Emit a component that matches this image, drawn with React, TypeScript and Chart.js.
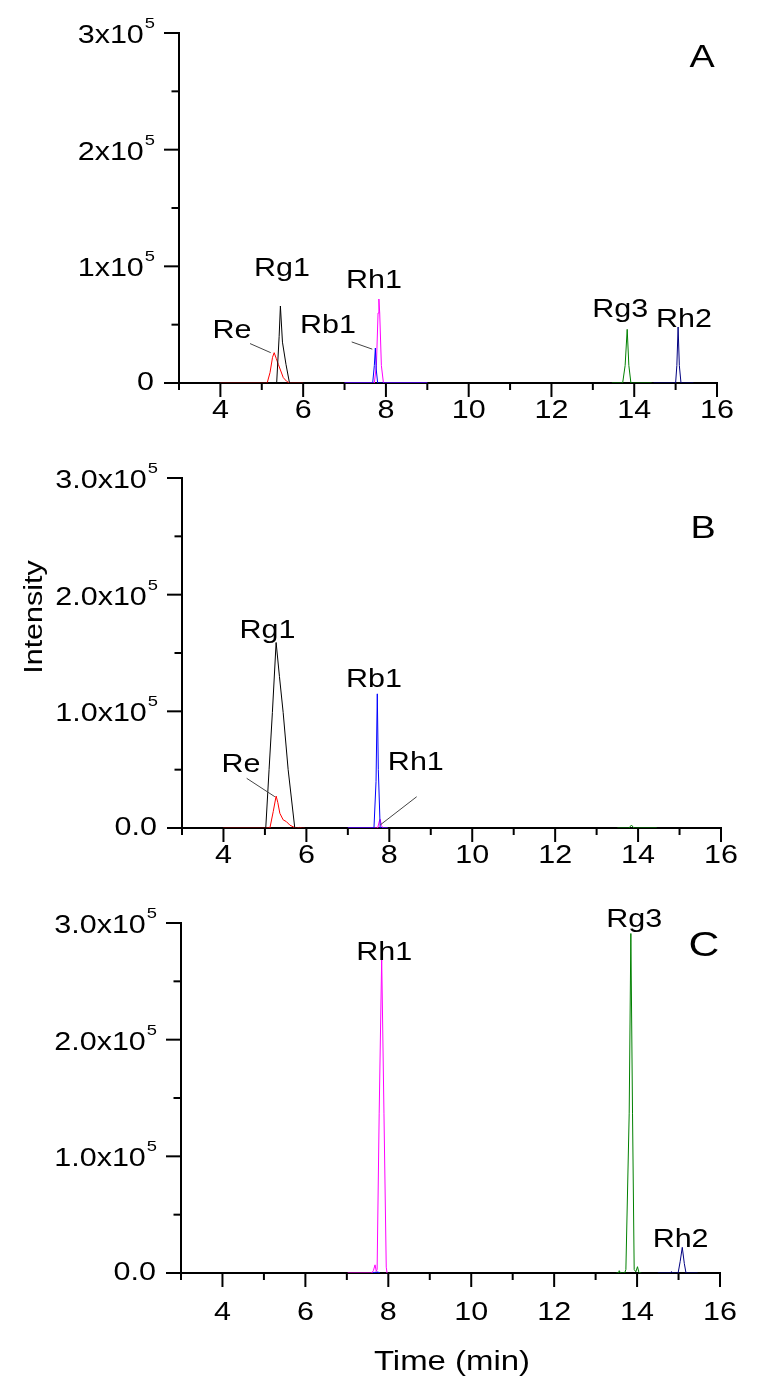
import React, { useEffect, useRef } from 'react';
import { Chart, registerables } from 'chart.js';

Chart.register(...registerables);

type Pt = [number, number];

// ---------------- tick labels ----------------
const xTickLabels = [4, 6, 8, 10, 12, 14, 16];
const yTickValues = [0, 100000, 200000, 300000];
const yTickLabelsA = ['0', '1x10', '2x10', '3x10'];
const yTickLabelsBC = ['0.0', '1.0x10', '2.0x10', '3.0x10'];
const yTickExponent = '5';

// ---------------- panel A data (time min, intensity) ----------------
const A_Rg1: Pt[] = [[4, 0], [5.36, 0], [5.42, 40000], [5.45, 66000], [5.5, 35000], [5.585, 16000], [5.67, 0], [6, 0]];
const A_Re: Pt[] = [[4, 0], [5.13, 0], [5.2, 9000], [5.26, 22000], [5.3, 26000], [5.35, 21000], [5.4, 16000], [5.52, 4600], [5.6, 1500], [5.67, 0], [6, 0]];
const A_Rb1: Pt[] = [[7, 0], [7.68, 0], [7.72, 15000], [7.745, 30000], [7.765, 12000], [7.8, 0], [9, 0]];
const A_Rh1: Pt[] = [[7, 0], [7.72, 0], [7.77, 15000], [7.81, 60000], [7.83, 72000], [7.85, 60000], [7.89, 15000], [7.94, 0], [9, 0]];
const A_Rg3: Pt[] = [[13.46, 0], [13.72, 0], [13.78, 15000], [13.83, 46000], [13.87, 15000], [13.92, 0], [14.42, 0]];
const A_Rh2: Pt[] = [[14.47, 0], [15.0, 0], [15.03, 15000], [15.06, 48000], [15.09, 15000], [15.13, 0], [15.43, 0]];

// ---------------- panel B data ----------------
const B_Rg1: Pt[] = [[4, 0], [5.02, 0], [5.1, 50000], [5.18, 99000], [5.27, 159000], [5.35, 130000], [5.44, 99000], [5.56, 50000], [5.72, 0], [6, 0]];
const B_Re: Pt[] = [[4, 0], [5.12, 0], [5.2, 14000], [5.27, 27400], [5.31, 22000], [5.36, 12600], [5.44, 7000], [5.52, 5400], [5.6, 2500], [5.68, 1000], [5.76, 0], [5.84, 500], [5.9, 0], [5.96, 0]];
const B_Rb1: Pt[] = [[7, 0], [7.63, 0], [7.68, 40000], [7.71, 115000], [7.735, 50000], [7.78, 0], [7.96, 0]];
const B_Rh1: Pt[] = [[7, 0], [7.72, 0], [7.76, 6000], [7.78, 7500], [7.81, 2000], [7.85, 0], [7.96, 0]];
const B_Rg3: Pt[] = [[13.5, 0], [13.78, 0], [13.84, 2500], [13.9, 0], [14.45, 0]];

// ---------------- panel C data ----------------
const C_Rh1: Pt[] = [[7.02, 0], [7.6, 0], [7.64, 2000], [7.68, 7000], [7.71, 1500], [7.73, 3000], [7.78, 137000], [7.84, 270000], [7.895, 137000], [7.95, 5000], [7.97, 0]];
const C_Rb1: Pt[] = [[7.6, 0], [7.68, 600], [7.75, 800], [7.8, 0]];
const C_Rg3: Pt[] = [[13.5, 0], [13.55, 0], [13.57, 2000], [13.6, 0], [13.7, 0], [13.73, 3000], [13.81, 137000], [13.85, 291000], [13.89, 137000], [13.93, 3000], [13.97, 1000], [14.01, 5400], [14.04, 1000], [14.07, 0], [14.1, 0]];
const C_Rh2: Pt[] = [[14.5, 0], [14.8, 0], [14.83, 1200], [14.86, 0], [14.99, 0], [15.04, 10000], [15.09, 22000], [15.14, 8000], [15.18, 0], [15.46, 0]];

// ---------------- styling ----------------
const FONT = "'Liberation Sans', Arial, Helvetica, sans-serif";
const SX = 1.22; // horizontal widening of the lettering
const X_AXIS_H = 20;
const LABEL_SIZE = 25;
const SUP_SIZE = 15;

interface Series { label: string; color: string; data: Pt[] }
interface Note { text: string; t: number; v: number; size?: number }
interface Leader { t1: number; v1: number; t2: number; v2: number }
interface Panel {
  key: string;
  top: number;
  height: number;
  axisLeft: number;
  padRight: number;
  yLabels: string[];
  xLabelDy: number;
  series: Series[];
  notes: Note[];
  leaders: Leader[];
  yTitle?: { text: string; x: number; y: number };
  xTitle?: { text: string; dy: number };
}

const panels: Panel[] = [
  {
    key: 'A', top: 0, height: 445, axisLeft: 179, padRight: 42,
    yLabels: yTickLabelsA, xLabelDy: 35,
    series: [
      { label: 'Rg1', color: '#000000', data: A_Rg1 },
      { label: 'Re', color: '#ff0000', data: A_Re },
      { label: 'Rb1', color: '#0000ff', data: A_Rb1 },
      { label: 'Rh1', color: '#ff00ff', data: A_Rh1 },
      { label: 'Rg3', color: '#008000', data: A_Rg3 },
      { label: 'Rh2', color: '#000080', data: A_Rh2 },
    ],
    notes: [
      { text: 'Rg1', t: 5.49, v: 92000 },
      { text: 'Re', t: 4.28, v: 38700 },
      { text: 'Rh1', t: 7.71, v: 81700 },
      { text: 'Rb1', t: 6.6, v: 43000 },
      { text: 'Rg3', t: 13.66, v: 56700 },
      { text: 'Rh2', t: 15.2, v: 48100 },
      { text: 'A', t: 15.64, v: 271000, size: 31 },
    ],
    leaders: [
      { t1: 4.716, v1: 33800, t2: 5.216, v2: 26000 },
      { t1: 7.173, v1: 35200, t2: 7.671, v2: 29000 },
    ],
  },
  {
    key: 'B', top: 445, height: 445, axisLeft: 182, padRight: 38,
    yLabels: yTickLabelsBC, xLabelDy: 35,
    series: [
      { label: 'Rg1', color: '#000000', data: B_Rg1 },
      { label: 'Re', color: '#ff0000', data: B_Re },
      { label: 'Rb1', color: '#0000ff', data: B_Rb1 },
      { label: 'Rh1', color: '#ff00ff', data: B_Rh1 },
      { label: 'Rg3', color: '#008000', data: B_Rg3 },
    ],
    notes: [
      { text: 'Rg1', t: 5.06, v: 163000 },
      { text: 'Re', t: 4.42, v: 48000 },
      { text: 'Rb1', t: 7.63, v: 121000 },
      { text: 'Rh1', t: 8.64, v: 49700 },
      { text: 'B', t: 15.57, v: 249000, size: 31 },
    ],
    leaders: [
      { t1: 4.56, v1: 42600, t2: 5.24, v2: 26800 },
      { t1: 8.66, v1: 26800, t2: 7.78, v2: 2600 },
    ],
    yTitle: { text: 'Intensity', x: 42, y: 172 },
  },
  {
    key: 'C', top: 890, height: 505, axisLeft: 181, padRight: 39,
    yLabels: yTickLabelsBC, xLabelDy: 47,
    series: [
      { label: 'Rh1', color: '#ff00ff', data: C_Rh1 },
      { label: 'Rb1', color: '#0000ff', data: C_Rb1 },
      { label: 'Rg3', color: '#008000', data: C_Rg3 },
      { label: 'Rh2', color: '#000080', data: C_Rh2 },
    ],
    notes: [
      { text: 'Rh1', t: 7.9, v: 268000 },
      { text: 'Rg3', t: 13.93, v: 297000 },
      { text: 'Rh2', t: 15.05, v: 22000 },
      { text: 'C', t: 15.61, v: 272000, size: 35 },
    ],
    leaders: [],
    xTitle: { text: 'Time (min)', dy: 97 },
  },
];

function drawText(ctx: CanvasRenderingContext2D, s: string, x: number, y: number, size: number, align: CanvasTextAlign = 'center', rot = 0) {
  ctx.save();
  ctx.font = `${size}px ${FONT}`;
  ctx.fillStyle = '#000000';
  ctx.textAlign = align;
  ctx.textBaseline = 'alphabetic';
  ctx.translate(x, y);
  if (rot) ctx.rotate(rot);
  ctx.scale(SX, 1);
  ctx.fillText(s, 0, 0);
  ctx.restore();
}

function textWidth(ctx: CanvasRenderingContext2D, s: string, size: number) {
  ctx.save();
  ctx.font = `${size}px ${FONT}`;
  const w = ctx.measureText(s).width * SX;
  ctx.restore();
  return w;
}

function decorPlugin(p: Panel) {
  return {
    id: 'decor' + p.key,
    afterDraw(chart: any) {
      const ctx: CanvasRenderingContext2D = chart.ctx;
      const xs = chart.scales.x;
      const ys = chart.scales.y;
      const area = chart.chartArea;
      ctx.save();
      ctx.strokeStyle = '#000000';
      ctx.lineWidth = 2;
      ctx.lineCap = 'butt';
      // x ticks (major every 2 min, minor in between)
      xs.ticks.forEach((tk: any) => {
        const px = xs.getPixelForValue(tk.value);
        const major = Math.round(tk.value) % 2 === 0;
        const len = major ? 14 : 7;
        ctx.beginPath();
        ctx.moveTo(px, area.bottom);
        ctx.lineTo(px, area.bottom + len);
        ctx.stroke();
      });
      // y ticks
      ys.ticks.forEach((tk: any) => {
        const py = ys.getPixelForValue(tk.value);
        const major = Math.round(tk.value) % 100000 === 0;
        const len = major ? 15 : 7.5;
        ctx.beginPath();
        ctx.moveTo(area.left - len, py);
        ctx.lineTo(area.left, py);
        ctx.stroke();
      });
      ctx.restore();

      // x tick labels
      xTickLabels.forEach((v) => {
        drawText(ctx, String(v), xs.getPixelForValue(v), area.bottom + p.xLabelDy, LABEL_SIZE, 'center');
      });

      // y tick labels with exponent
      const rightEdge = area.left - 25;
      yTickValues.forEach((v, i) => {
        const py = ys.getPixelForValue(v);
        const lab = p.yLabels[i];
        if (v === 0) {
          drawText(ctx, lab, rightEdge, py + 7, LABEL_SIZE, 'right');
        } else {
          const supW = textWidth(ctx, yTickExponent, SUP_SIZE);
          drawText(ctx, lab, rightEdge - supW, py + 10, LABEL_SIZE, 'right');
          drawText(ctx, yTickExponent, rightEdge - supW + 1, py - 5, SUP_SIZE, 'left');
        }
      });

      // leader lines
      ctx.save();
      ctx.strokeStyle = '#444444';
      ctx.lineWidth = 1;
      p.leaders.forEach((l) => {
        ctx.beginPath();
        ctx.moveTo(xs.getPixelForValue(l.t1), ys.getPixelForValue(l.v1));
        ctx.lineTo(xs.getPixelForValue(l.t2), ys.getPixelForValue(l.v2));
        ctx.stroke();
      });
      ctx.restore();

      // peak labels and panel letter
      p.notes.forEach((n) => {
        drawText(ctx, n.text, xs.getPixelForValue(n.t), ys.getPixelForValue(n.v), n.size || LABEL_SIZE, 'center');
      });

      if (p.yTitle) {
        drawText(ctx, p.yTitle.text, p.yTitle.x, p.yTitle.y, LABEL_SIZE, 'center', -Math.PI / 2);
      }
      if (p.xTitle) {
        drawText(ctx, p.xTitle.text, (area.left + area.right) / 2 + 1.5, area.bottom + p.xTitle.dy, 27, 'center');
      }
    },
  };
}

function PanelChart({ p }: { p: Panel }) {
  const ref = useRef<HTMLCanvasElement>(null);
  useEffect(() => {
    if (!ref.current) return;
    const chart = new Chart(ref.current, {
      type: 'scatter',
      data: {
        datasets: p.series.map((s) => ({
          label: s.label,
          data: s.data.map(([x, y]) => ({ x, y })),
          borderColor: s.color,
          backgroundColor: s.color,
          borderWidth: 1,
          showLine: true,
          pointRadius: 0,
          pointHoverRadius: 0,
          tension: 0,
          fill: false,
        })),
      },
      options: {
        responsive: false,
        maintainAspectRatio: false,
        animation: false,
        events: [],
        layout: {
          padding: { left: 0, top: 33, right: p.padRight, bottom: p.height - 383 - X_AXIS_H },
        },
        plugins: {
          legend: { display: false },
          tooltip: { enabled: false },
          title: { display: false },
        },
        scales: {
          x: {
            type: 'linear',
            min: 3,
            max: 16,
            ticks: { stepSize: 1, display: false },
            grid: { display: false },
            border: { display: true, color: '#000000', width: 2 },
            afterFit: (s: any) => { s.height = X_AXIS_H; },
          },
          y: {
            type: 'linear',
            min: 0,
            max: 300000,
            ticks: { stepSize: 50000, display: false },
            grid: { display: false },
            border: { display: true, color: '#000000', width: 2 },
            afterFit: (s: any) => { s.width = p.axisLeft; },
          },
        },
      } as any,
      plugins: [decorPlugin(p)],
    });
    return () => chart.destroy();
  }, [p]);
  return (
    <canvas
      ref={ref}
      width={759}
      height={p.height}
      style={{ position: 'absolute', left: 0, top: p.top, width: 759, height: p.height }}
    />
  );
}

export default function App() {
  return (
    <div style={{ position: 'absolute', left: 0, top: 0, width: 759, height: 1395, background: '#ffffff', overflow: 'hidden' }}>
      {panels.map((p) => (
        <PanelChart key={p.key} p={p} />
      ))}
    </div>
  );
}
